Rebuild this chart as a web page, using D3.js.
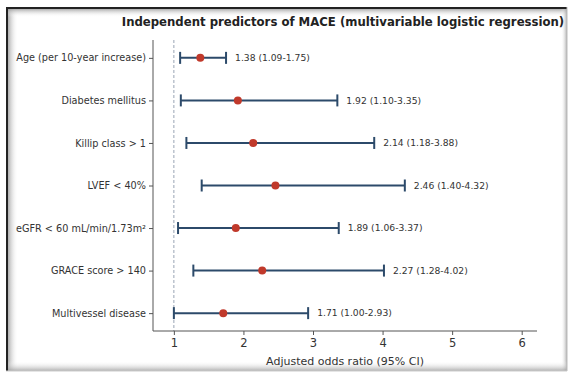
<!DOCTYPE html>
<html><head><meta charset="utf-8">
<script src="https://cdn.jsdelivr.net/npm/d3@7/dist/d3.min.js"></script>
<style>body{margin:0;background:#fff}svg{display:block}</style>
</head><body>
<svg id="c" width="571" height="376"></svg>
<script>
const labels = ["Age (per 10-year increase)","Diabetes mellitus","Killip class > 1","LVEF < 40%","eGFR < 60 mL/min/1.73m\u00B2","GRACE score > 140","Multivessel disease"];
const orValues = [1.38,1.92,2.14,2.46,1.89,2.27,1.71];
const ciLow = [1.09,1.10,1.18,1.40,1.06,1.28,1.00];
const ciHigh = [1.75,3.35,3.88,4.32,3.37,4.02,2.93];
const xTicks = [1,2,3,4,5,6];
const title = "Independent predictors of MACE (multivariable logistic regression)";
const xLabel = "Adjusted odds ratio (95% CI)";

const svg = d3.select("#c");
const defs = svg.append("defs");
function grad(id,x1,y1,x2,y2){
  const g = defs.append("linearGradient").attr("id",id).attr("x1",x1).attr("y1",y1).attr("x2",x2).attr("y2",y2);
  g.append("stop").attr("offset","0").attr("stop-color","#9a9a9a").attr("stop-opacity",0.8);
  g.append("stop").attr("offset","1").attr("stop-color","#fff").attr("stop-opacity",0);
}
grad("gl",0,0,1,0); grad("gt",0,0,0,1); grad("gr",1,0,0,0); grad("gb",0,1,0,0);

// frame
const F = {l:6,t:7,r:567,b:371};
svg.append("rect").attr("x",F.l).attr("y",F.t).attr("width",F.r-F.l).attr("height",F.b-F.t).attr("fill","#fff");
svg.append("rect").attr("x",F.l+2).attr("y",F.t+2).attr("width",10).attr("height",F.b-F.t-2).attr("fill","url(#gl)");
svg.append("rect").attr("x",F.l+2).attr("y",F.t+2).attr("width",F.r-F.l-2).attr("height",8).attr("fill","url(#gt)");
svg.append("rect").attr("x",F.r-6).attr("y",F.t).attr("width",6).attr("height",F.b-F.t).attr("fill","url(#gr)");
svg.append("rect").attr("x",F.l).attr("y",F.b-10).attr("width",F.r-F.l).attr("height",10).attr("fill","url(#gb)");
svg.append("line").attr("x1",F.l+1).attr("x2",F.l+1).attr("y1",F.t).attr("y2",F.b).attr("stroke","#222").attr("stroke-width",2);
svg.append("line").attr("x1",F.l).attr("x2",F.r).attr("y1",F.t+1).attr("y2",F.t+1).attr("stroke","#222").attr("stroke-width",2);
svg.append("line").attr("x1",F.r).attr("x2",F.r).attr("y1",F.t).attr("y2",F.b).attr("stroke","#bbb").attr("stroke-width",1);
svg.append("line").attr("x1",F.l).attr("x2",F.r).attr("y1",F.b).attr("y2",F.b).attr("stroke","#ccc").attr("stroke-width",1);

const P = {l:153,r:537,t:40,b:331};
const x = d3.scaleLinear().domain([0.7,6.22]).range([P.l,P.r]);
const y = d3.scaleLinear().domain([-0.42,6.42]).range([P.t,P.b]);
const font = "DejaVu Sans, sans-serif";
const txt = "#333";

// reference line
svg.append("line").attr("x1",x(1)).attr("x2",x(1)).attr("y1",P.t).attr("y2",P.b)
  .attr("stroke","#9aa4b4").attr("stroke-width",1).attr("stroke-dasharray","3,2");

// axes
const xa = svg.append("g").attr("transform",`translate(0,${P.b})`)
  .call(d3.axisBottom(x).tickValues(xTicks).tickFormat(d3.format("d")).tickSize(4).tickPadding(4));
const ya = svg.append("g").attr("transform",`translate(${P.l},0)`)
  .call(d3.axisLeft(y).tickValues(d3.range(labels.length)).tickFormat(i=>labels[i]).tickSize(4).tickPadding(3));
[xa,ya].forEach(a=>{
  a.select(".domain").attr("stroke","#555").attr("stroke-width",1);
  a.selectAll(".tick line").attr("stroke","#555");
  a.selectAll("text").attr("fill",txt).attr("font-family",font);
});
xa.selectAll("text").attr("font-size",11.5);
ya.selectAll("text").attr("font-size",9.7);
ya.select(".domain").attr("d",`M-0,${P.t}V${P.b}`);
xa.select(".domain").attr("d",`M${P.l},0H${P.r}`);

// CI lines
const lineCol = "#2c4a6a";
const g = svg.append("g");
labels.forEach((lab,i)=>{
  const yy = y(i);
  g.append("line").attr("x1",x(ciLow[i])).attr("x2",x(ciHigh[i])).attr("y1",yy).attr("y2",yy)
    .attr("stroke",lineCol).attr("stroke-width",2);
  [ciLow[i],ciHigh[i]].forEach(v=>{
    g.append("line").attr("x1",x(v)).attr("x2",x(v)).attr("y1",yy-6).attr("y2",yy+6)
      .attr("stroke",lineCol).attr("stroke-width",2);
  });
  g.append("circle").attr("cx",x(orValues[i])).attr("cy",yy).attr("r",4).attr("fill","#c0392b");
  g.append("text").attr("x",x(ciHigh[i])+9).attr("y",yy).attr("dy","0.35em")
    .attr("font-family",font).attr("font-size",9.2).attr("fill",txt)
    .text(`${orValues[i].toFixed(2)} (${ciLow[i].toFixed(2)}-${ciHigh[i].toFixed(2)})`);
});

svg.append("text").attr("x",(P.l+P.r)/2 - 2).attr("y",26).attr("text-anchor","middle")
  .attr("font-family",font).attr("font-weight","bold").attr("font-size",11.7).attr("fill","#222").text(title);
svg.append("text").attr("x",(P.l+P.r)/2).attr("y",365).attr("text-anchor","middle")
  .attr("font-family",font).attr("font-size",11).attr("fill",txt).text(xLabel);
</script>
</body></html>
